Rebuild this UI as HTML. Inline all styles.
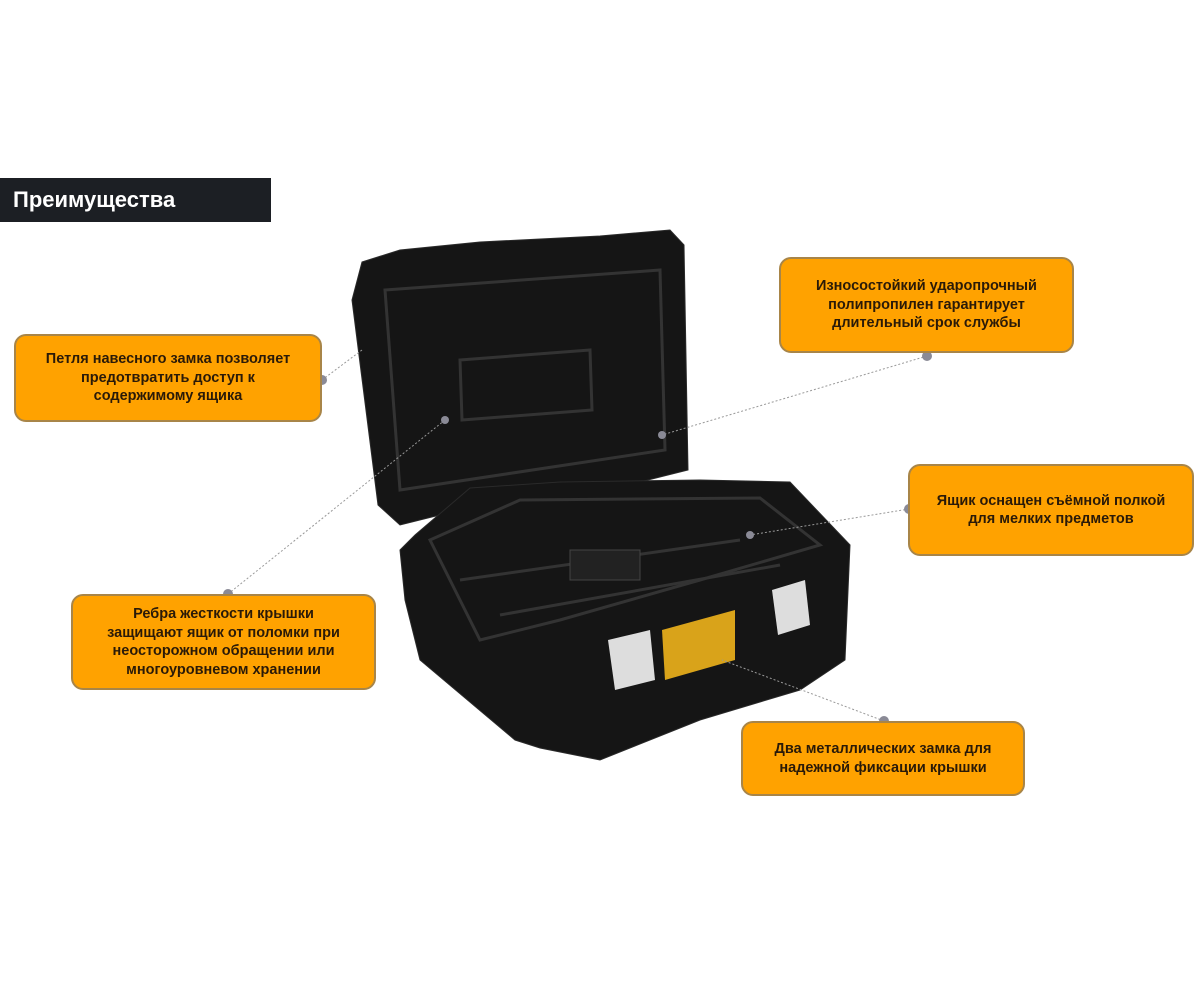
<!DOCTYPE html>
<html><head><meta charset="utf-8"><style>
body{margin:0;width:1200px;height:982px;background:#fff;position:relative;overflow:hidden;font-family:"Liberation Sans",sans-serif}
.h{position:absolute;left:0;top:178px;width:271px;height:44px;background:#1c1f24;color:#fff;font-weight:bold;font-size:22px;line-height:44px;padding-left:13px;box-sizing:border-box}
.b{position:absolute;background:#ffa200;border:2px solid #a88548;border-radius:12px;box-sizing:border-box;display:flex;align-items:center;justify-content:center;text-align:center;font-weight:bold;font-size:14.5px;line-height:18.5px;color:#2a1a08}
svg{position:absolute;left:0;top:0}
</style></head><body>
<svg width="1200" height="982">
<g fill="#151515" stroke="#2a2a2a">
<path d="M362 262 L400 250 L480 242 L600 236 L670 230 L684 245 L688 470 L600 492 L480 505 L400 525 L378 505 L352 300 Z"/>
<path d="M400 550 L415 535 L470 488 L560 482 L700 480 L790 482 L850 545 L845 660 L800 690 L700 720 L600 760 L540 748 L515 740 L420 660 L405 600 Z"/>
</g>
<g fill="none" stroke="#333" stroke-width="3">
<path d="M385 290 L660 270 L665 450 L400 490 Z"/>
<path d="M460 360 L590 350 L592 410 L462 420 Z"/>
<path d="M430 540 L520 500 L760 498 L820 545 L700 580 L560 620 L480 640 Z"/>
<path d="M460 580 L740 540"/><path d="M500 615 L780 565"/>
</g>
<rect x="570" y="550" width="70" height="30" fill="#222" stroke="#444"/>
<path d="M608 640 L650 630 L655 680 L615 690 Z" fill="#ddd"/>
<path d="M772 590 L805 580 L810 625 L778 635 Z" fill="#ddd"/>
<path d="M662 630 L735 610 L735 660 L665 680 Z" fill="#d9a31a"/>
<g stroke="#999" stroke-dasharray="2,2" fill="none">
<line x1="322" y1="380" x2="362" y2="350"/>
<line x1="927" y1="356" x2="662" y2="435"/>
<line x1="909" y1="509" x2="750" y2="535"/>
<line x1="228" y1="594" x2="445" y2="420"/>
<line x1="884" y1="721" x2="722" y2="660"/>
</g>
<g fill="#8a8a96">
<circle cx="322" cy="380" r="5"/><circle cx="927" cy="356" r="5"/><circle cx="909" cy="509" r="5"/><circle cx="228" cy="594" r="5"/><circle cx="884" cy="721" r="5"/>
<circle cx="662" cy="435" r="4"/><circle cx="750" cy="535" r="4"/><circle cx="445" cy="420" r="4"/>
</g>
</svg>
<div class="h">Преимущества</div>
<div class="b" style="left:14px;top:334px;width:308px;height:88px">Петля навесного замка позволяет<br>предотвратить доступ к<br>содержимому ящика</div>
<div class="b" style="left:779px;top:257px;width:295px;height:96px">Износостойкий ударопрочный<br>полипропилен гарантирует<br>длительный срок службы</div>
<div class="b" style="left:908px;top:464px;width:286px;height:92px">Ящик оснащен съёмной полкой<br>для мелких предметов</div>
<div class="b" style="left:71px;top:594px;width:305px;height:96px">Ребра жесткости крышки<br>защищают ящик от поломки при<br>неосторожном обращении или<br>многоуровневом хранении</div>
<div class="b" style="left:741px;top:721px;width:284px;height:75px">Два металлических замка для<br>надежной фиксации крышки</div>
</body></html>
